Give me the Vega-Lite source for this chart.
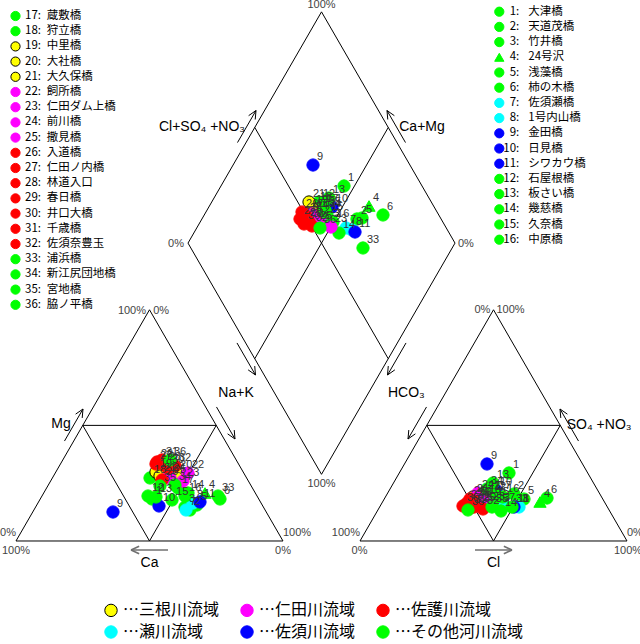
{
  "$schema": "https://vega.github.io/schema/vega-lite/v6.json",
  "width": 640,
  "height": 644,
  "padding": 0,
  "autosize": {"type": "none"},
  "background": "white",
  "config": {"view": {"stroke": null}},
  "datasets": {
    "sites": [
      {"site": 1, "tag": "1:", "name": "大津橋", "basin": "その他河川流域"},
      {"site": 2, "tag": "2:", "name": "天道茂橋", "basin": "その他河川流域"},
      {"site": 3, "tag": "3:", "name": "竹井橋", "basin": "その他河川流域"},
      {"site": 4, "tag": "4:", "name": "24号沢", "basin": "その他河川流域"},
      {"site": 5, "tag": "5:", "name": "浅藻橋", "basin": "その他河川流域"},
      {"site": 6, "tag": "6:", "name": "柿の木橋", "basin": "その他河川流域"},
      {"site": 7, "tag": "7:", "name": "佐須瀬橋", "basin": "瀬川流域"},
      {"site": 8, "tag": "8:", "name": "1号内山橋", "basin": "瀬川流域"},
      {"site": 9, "tag": "9:", "name": "金田橋", "basin": "佐須川流域"},
      {"site": 10, "tag": "10:", "name": "日見橋", "basin": "佐須川流域"},
      {"site": 11, "tag": "11:", "name": "シワカウ橋", "basin": "佐須川流域"},
      {"site": 12, "tag": "12:", "name": "石屋根橋", "basin": "その他河川流域"},
      {"site": 13, "tag": "13:", "name": "板さい橋", "basin": "その他河川流域"},
      {"site": 14, "tag": "14:", "name": "幾慈橋", "basin": "その他河川流域"},
      {"site": 15, "tag": "15:", "name": "久奈橋", "basin": "その他河川流域"},
      {"site": 16, "tag": "16:", "name": "中原橋", "basin": "その他河川流域"},
      {"site": 17, "tag": "17:", "name": "蔵敷橋", "basin": "その他河川流域"},
      {"site": 18, "tag": "18:", "name": "狩立橋", "basin": "その他河川流域"},
      {"site": 19, "tag": "19:", "name": "中里橋", "basin": "三根川流域"},
      {"site": 20, "tag": "20:", "name": "大社橋", "basin": "三根川流域"},
      {"site": 21, "tag": "21:", "name": "大久保橋", "basin": "三根川流域"},
      {"site": 22, "tag": "22:", "name": "飼所橋", "basin": "仁田川流域"},
      {"site": 23, "tag": "23:", "name": "仁田ダム上橋", "basin": "仁田川流域"},
      {"site": 24, "tag": "24:", "name": "前川橋", "basin": "仁田川流域"},
      {"site": 25, "tag": "25:", "name": "撒見橋", "basin": "仁田川流域"},
      {"site": 26, "tag": "26:", "name": "入道橋", "basin": "佐護川流域"},
      {"site": 27, "tag": "27:", "name": "仁田ノ内橋", "basin": "佐護川流域"},
      {"site": 28, "tag": "28:", "name": "林道入口", "basin": "佐護川流域"},
      {"site": 29, "tag": "29:", "name": "春日橋", "basin": "佐護川流域"},
      {"site": 30, "tag": "30:", "name": "井口大橋", "basin": "佐護川流域"},
      {"site": 31, "tag": "31:", "name": "千歳橋", "basin": "佐護川流域"},
      {"site": 32, "tag": "32:", "name": "佐須奈豊玉", "basin": "佐護川流域"},
      {"site": 33, "tag": "33:", "name": "浦浜橋", "basin": "その他河川流域"},
      {"site": 34, "tag": "34:", "name": "新江尻団地橋", "basin": "その他河川流域"},
      {"site": 35, "tag": "35:", "name": "宮地橋", "basin": "その他河川流域"},
      {"site": 36, "tag": "36:", "name": "脇ノ平橋", "basin": "その他河川流域"}
    ],
    "pts": [
      {"site": 1, "plot": "c", "x": 50.94, "y": 15.73},
      {"site": 2, "plot": "c", "x": 65.17, "y": 11.61},
      {"site": 3, "plot": "c", "x": 63.30, "y": 12.73},
      {"site": 4, "plot": "c", "x": 70.79, "y": 17.98},
      {"site": 5, "plot": "c", "x": 67.79, "y": 13.48},
      {"site": 6, "plot": "c", "x": 76.40, "y": 15.73},
      {"site": 7, "plot": "c", "x": 63.67, "y": 11.61},
      {"site": 8, "plot": "c", "x": 66.29, "y": 14.23},
      {"site": 9, "plot": "c", "x": 36.33, "y": 10.86},
      {"site": 10, "plot": "c", "x": 53.56, "y": 13.11},
      {"site": 11, "plot": "c", "x": 68.91, "y": 14.61},
      {"site": 12, "plot": "c", "x": 49.44, "y": 16.85},
      {"site": 13, "plot": "c", "x": 52.43, "y": 16.48},
      {"site": 14, "plot": "c", "x": 64.42, "y": 17.98},
      {"site": 15, "plot": "c", "x": 58.43, "y": 15.36},
      {"site": 16, "plot": "c", "x": 63.30, "y": 16.85},
      {"site": 17, "plot": "c", "x": 60.67, "y": 19.85},
      {"site": 18, "plot": "c", "x": 50.19, "y": 23.60},
      {"site": 19, "plot": "c", "x": 52.43, "y": 25.84},
      {"site": 20, "plot": "c", "x": 59.93, "y": 25.47},
      {"site": 21, "plot": "c", "x": 53.93, "y": 24.34},
      {"site": 22, "plot": "c", "x": 64.42, "y": 25.47},
      {"site": 23, "plot": "c", "x": 62.55, "y": 22.47},
      {"site": 24, "plot": "c", "x": 57.30, "y": 24.34},
      {"site": 25, "plot": "c", "x": 57.68, "y": 23.60},
      {"site": 26, "plot": "c", "x": 54.68, "y": 22.85},
      {"site": 27, "plot": "c", "x": 52.43, "y": 28.84},
      {"site": 28, "plot": "c", "x": 55.80, "y": 28.46},
      {"site": 29, "plot": "c", "x": 52.81, "y": 29.59},
      {"site": 30, "plot": "c", "x": 56.93, "y": 27.34},
      {"site": 31, "plot": "c", "x": 54.68, "y": 30.34},
      {"site": 32, "plot": "c", "x": 59.55, "y": 28.09},
      {"site": 33, "plot": "c", "x": 75.66, "y": 16.85},
      {"site": 34, "plot": "c", "x": 59.55, "y": 20.97},
      {"site": 35, "plot": "c", "x": 53.93, "y": 20.60},
      {"site": 36, "plot": "c", "x": 57.68, "y": 30.34},
      {"site": 1, "plot": "a", "x": 184.64, "y": 25.47},
      {"site": 2, "plot": "a", "x": 186.52, "y": 17.60},
      {"site": 3, "plot": "a", "x": 181.27, "y": 13.11},
      {"site": 4, "plot": "a", "x": 196.25, "y": 14.61},
      {"site": 5, "plot": "a", "x": 190.26, "y": 15.73},
      {"site": 6, "plot": "a", "x": 198.88, "y": 16.10},
      {"site": 7, "plot": "a", "x": 183.15, "y": 13.11},
      {"site": 8, "plot": "a", "x": 188.39, "y": 12.73},
      {"site": 9, "plot": "a", "x": 176.40, "y": 28.84},
      {"site": 10, "plot": "a", "x": 179.77, "y": 19.10},
      {"site": 11, "plot": "a", "x": 186.52, "y": 12.73},
      {"site": 12, "plot": "a", "x": 177.53, "y": 17.23},
      {"site": 13, "plot": "a", "x": 178.65, "y": 21.72},
      {"site": 14, "plot": "a", "x": 181.65, "y": 11.24},
      {"site": 15, "plot": "a", "x": 178.65, "y": 15.36},
      {"site": 16, "plot": "a", "x": 182.40, "y": 16.48},
      {"site": 17, "plot": "a", "x": 179.40, "y": 17.60},
      {"site": 18, "plot": "a", "x": 175.65, "y": 16.10},
      {"site": 19, "plot": "a", "x": 172.28, "y": 15.36},
      {"site": 20, "plot": "a", "x": 173.78, "y": 13.48},
      {"site": 21, "plot": "a", "x": 171.16, "y": 16.48},
      {"site": 22, "plot": "a", "x": 175.28, "y": 17.60},
      {"site": 23, "plot": "a", "x": 177.15, "y": 13.48},
      {"site": 24, "plot": "a", "x": 173.03, "y": 17.98},
      {"site": 25, "plot": "a", "x": 173.41, "y": 13.11},
      {"site": 26, "plot": "a", "x": 170.04, "y": 15.73},
      {"site": 27, "plot": "a", "x": 168.91, "y": 14.23},
      {"site": 28, "plot": "a", "x": 171.53, "y": 12.73},
      {"site": 29, "plot": "a", "x": 171.53, "y": 14.98},
      {"site": 30, "plot": "a", "x": 167.41, "y": 13.11},
      {"site": 31, "plot": "a", "x": 170.04, "y": 12.36},
      {"site": 32, "plot": "a", "x": 174.91, "y": 11.99},
      {"site": 33, "plot": "a", "x": 185.77, "y": 12.73},
      {"site": 34, "plot": "a", "x": 176.40, "y": 19.48},
      {"site": 35, "plot": "a", "x": 178.28, "y": 12.73},
      {"site": 36, "plot": "a", "x": 169.29, "y": 11.61},
      {"site": 1, "plot": "d", "x": 122.85, "y": 132.96},
      {"site": 2, "plot": "d", "x": 127.71, "y": 120.60},
      {"site": 3, "plot": "d", "x": 117.60, "y": 119.48},
      {"site": 4, "plot": "d", "x": 132.21, "y": 125.47},
      {"site": 5, "plot": "d", "x": 129.59, "y": 120.97},
      {"site": 6, "plot": "d", "x": 137.45, "y": 122.10},
      {"site": 7, "plot": "d", "x": 123.59, "y": 117.23},
      {"site": 8, "plot": "d", "x": 125.84, "y": 116.48},
      {"site": 9, "plot": "d", "x": 111.24, "y": 140.82},
      {"site": 10, "plot": "d", "x": 118.35, "y": 125.09},
      {"site": 11, "plot": "d", "x": 126.97, "y": 115.73},
      {"site": 12, "plot": "d", "x": 113.48, "y": 126.97},
      {"site": 13, "plot": "d", "x": 117.23, "y": 128.46},
      {"site": 14, "plot": "d", "x": 120.97, "y": 115.35},
      {"site": 15, "plot": "d", "x": 116.48, "y": 122.10},
      {"site": 16, "plot": "d", "x": 118.73, "y": 119.48},
      {"site": 17, "plot": "d", "x": 114.61, "y": 125.09},
      {"site": 18, "plot": "d", "x": 112.36, "y": 125.84},
      {"site": 19, "plot": "d", "x": 110.86, "y": 124.72},
      {"site": 20, "plot": "d", "x": 111.24, "y": 123.22},
      {"site": 21, "plot": "d", "x": 109.74, "y": 126.97},
      {"site": 22, "plot": "d", "x": 113.86, "y": 120.97},
      {"site": 23, "plot": "d", "x": 117.98, "y": 117.60},
      {"site": 24, "plot": "d", "x": 110.86, "y": 122.47},
      {"site": 25, "plot": "d", "x": 112.36, "y": 118.73},
      {"site": 26, "plot": "d", "x": 107.12, "y": 123.22},
      {"site": 27, "plot": "d", "x": 106.37, "y": 120.60},
      {"site": 28, "plot": "d", "x": 108.61, "y": 121.72},
      {"site": 29, "plot": "d", "x": 108.61, "y": 119.85},
      {"site": 30, "plot": "d", "x": 107.87, "y": 118.73},
      {"site": 31, "plot": "d", "x": 109.74, "y": 119.48},
      {"site": 32, "plot": "d", "x": 110.86, "y": 117.98},
      {"site": 33, "plot": "d", "x": 129.96, "y": 109.74},
      {"site": 34, "plot": "d", "x": 115.73, "y": 123.22},
      {"site": 35, "plot": "d", "x": 115.73, "y": 123.97},
      {"site": 36, "plot": "d", "x": 113.86, "y": 117.23}
    ],
    "frame": [
      {"x": 0, "y": 0, "x2": 100, "y2": 0},
      {"x": 0, "y": 0, "x2": 50, "y2": 86.603},
      {"x": 100, "y": 0, "x2": 50, "y2": 86.603},
      {"x": 25, "y": 43.301, "x2": 75, "y2": 43.301},
      {"x": 25, "y": 43.301, "x2": 50, "y2": 0},
      {"x": 75, "y": 43.301, "x2": 50, "y2": 0},
      {"x": 128.84, "y": 0, "x2": 228.84, "y2": 0},
      {"x": 128.84, "y": 0, "x2": 178.84, "y2": 86.603},
      {"x": 228.84, "y": 0, "x2": 178.84, "y2": 86.603},
      {"x": 153.84, "y": 43.301, "x2": 203.84, "y2": 43.301},
      {"x": 153.84, "y": 43.301, "x2": 178.84, "y2": 0},
      {"x": 203.84, "y": 43.301, "x2": 178.84, "y2": 0},
      {"x": 114.42, "y": 24.976, "x2": 64.42, "y2": 111.579},
      {"x": 64.42, "y": 111.579, "x2": 114.42, "y2": 198.182},
      {"x": 114.42, "y": 198.182, "x2": 164.42, "y2": 111.579},
      {"x": 164.42, "y": 111.579, "x2": 114.42, "y2": 24.976},
      {"x": 89.42, "y": 154.88, "x2": 139.42, "y2": 68.277},
      {"x": 139.42, "y": 154.88, "x2": 89.42, "y2": 68.277},
      {"x": 18.16, "y": 37.44, "x2": 25.09, "y2": 49.44},
      {"x": 25.09, "y": 49.44, "x2": 24.80, "y2": 46.08},
      {"x": 25.09, "y": 49.44, "x2": 22.33, "y2": 47.51},
      {"x": 75.09, "y": 50.20, "x2": 82.02, "y2": 38.20},
      {"x": 82.02, "y": 38.20, "x2": 79.26, "y2": 40.13},
      {"x": 82.02, "y": 38.20, "x2": 81.73, "y2": 41.56},
      {"x": 82.77, "y": 74.17, "x2": 89.70, "y2": 62.17},
      {"x": 89.70, "y": 62.17, "x2": 86.94, "y2": 64.10},
      {"x": 89.70, "y": 62.17, "x2": 89.41, "y2": 65.53},
      {"x": 146.07, "y": 74.17, "x2": 139.14, "y2": 62.17},
      {"x": 139.14, "y": 62.17, "x2": 139.43, "y2": 65.53},
      {"x": 139.14, "y": 62.17, "x2": 141.90, "y2": 64.10},
      {"x": 153.75, "y": 50.20, "x2": 146.82, "y2": 38.20},
      {"x": 146.82, "y": 38.20, "x2": 149.58, "y2": 40.13},
      {"x": 146.82, "y": 38.20, "x2": 147.11, "y2": 41.56},
      {"x": 210.68, "y": 37.44, "x2": 203.75, "y2": 49.44},
      {"x": 203.75, "y": 49.44, "x2": 204.04, "y2": 46.08},
      {"x": 203.75, "y": 49.44, "x2": 206.51, "y2": 47.51},
      {"x": 82.96, "y": 149.23, "x2": 89.89, "y2": 161.23},
      {"x": 89.89, "y": 161.23, "x2": 89.60, "y2": 157.87},
      {"x": 89.89, "y": 161.23, "x2": 87.13, "y2": 159.30},
      {"x": 145.88, "y": 149.23, "x2": 138.95, "y2": 161.23},
      {"x": 138.95, "y": 161.23, "x2": 141.71, "y2": 159.30},
      {"x": 138.95, "y": 161.23, "x2": 139.24, "y2": 157.87}
    ],
    "grayArrows": [
      {"x": 56.93, "y": -3.37, "x2": 43.07, "y2": -3.37},
      {"x": 43.07, "y": -3.37, "x2": 46.12, "y2": -1.95},
      {"x": 43.07, "y": -3.37, "x2": 46.12, "y2": -4.80},
      {"x": 171.91, "y": -3.37, "x2": 185.77, "y2": -3.37},
      {"x": 185.77, "y": -3.37, "x2": 182.72, "y2": -1.95},
      {"x": 185.77, "y": -3.37, "x2": 182.72, "y2": -4.80}
    ],
    "axisText": [
      {"x": 16.85, "y": 43.82, "t": "Mg"},
      {"x": 82.40, "y": 55.43, "t": "Na+K"},
      {"x": 146.2, "y": 55.43, "t": "HCO₃"},
      {"x": 218.4, "y": 43.45, "t": "SO₄ +NO₃"},
      {"x": 69.66, "y": 155.06, "t": "Cl+SO₄ +NO₃"},
      {"x": 152.06, "y": 155.06, "t": "Ca+Mg"},
      {"x": 50, "y": -8.24, "t": "Ca"},
      {"x": 178.84, "y": -8.24, "t": "Cl"}
    ],
    "pctRight": [
      {"x": 0, "y": 3.11, "t": "0%"},
      {"x": 128.84, "y": 3.11, "t": "100%"},
      {"x": 62.92, "y": 111.24, "t": "0%"},
      {"x": 48.7, "y": 86.3, "t": "100%"}
    ],
    "pctLeft": [
      {"x": 100, "y": 3.11, "t": "100%"},
      {"x": 228.84, "y": 3.11, "t": "0%"},
      {"x": 165.54, "y": 111.24, "t": "0%"},
      {"x": 51.4, "y": 86.3, "t": "0%"}
    ],
    "pctCenter": [
      {"x": 174.7, "y": 86.5, "t": "0%"},
      {"x": 185.2, "y": 86.5, "t": "100%"},
      {"x": 0, "y": -3.63, "t": "100%"},
      {"x": 100, "y": -3.63, "t": "0%"},
      {"x": 128.65, "y": -3.63, "t": "0%"},
      {"x": 229.2, "y": -3.63, "t": "100%"},
      {"x": 114.42, "y": 200.6, "t": "100%"},
      {"x": 114.42, "y": 21.35, "t": "100%"}
    ]
  },
  "resolve": {"scale": {"y": "independent"}},
  "layer": [
    {
      "encoding": {
        "x": {"field": "x", "type": "quantitative", "scale": {"domain": [-5.9925, 233.708], "nice": false, "zero": false}, "axis": null},
        "y": {"field": "y", "type": "quantitative", "scale": {"domain": [-38.577, 202.622], "nice": false, "zero": false}, "axis": null}
      },
      "layer": [
        {
          "data": {"name": "frame"},
          "mark": {"type": "rule", "color": "#000000", "strokeWidth": 1},
          "encoding": {"x2": {"field": "x2"}, "y2": {"field": "y2"}}
        },
        {
          "data": {"name": "grayArrows"},
          "mark": {"type": "rule", "color": "#707070", "strokeWidth": 1.6},
          "encoding": {"x2": {"field": "x2"}, "y2": {"field": "y2"}}
        },
        {
          "data": {"name": "pts"},
          "transform": [{"lookup": "site", "from": {"data": {"name": "sites"}, "key": "site", "fields": ["basin"]}}],
          "mark": {"type": "point", "filled": true, "opacity": 1, "size": 150, "strokeWidth": 1},
          "encoding": {
            "fill": {
              "field": "basin", "type": "nominal",
              "scale": {"domain": ["三根川流域", "仁田川流域", "佐護川流域", "瀬川流域", "佐須川流域", "その他河川流域"], "range": ["#ffff00", "#ff00ff", "#ff0000", "#00ffff", "#0000ff", "#00ff00"]},
              "legend": {"orient": "none", "direction": "horizontal", "legendX": 103, "legendY": 602, "columns": 3, "title": null, "symbolType": "circle", "symbolSize": 154, "symbolStrokeWidth": 1, "labelFontSize": 16, "labelFont": "Noto Sans CJK JP", "labelColor": "#000000", "labelExpr": "'…' + datum.label", "columnPadding": 18, "rowPadding": 4, "labelOffset": 4, "padding": 0, "symbolOpacity": 1}
            },
            "stroke": {
              "field": "basin", "type": "nominal",
              "scale": {"domain": ["三根川流域", "仁田川流域", "佐護川流域", "瀬川流域", "佐須川流域", "その他河川流域"], "range": ["#000000", "#ff00ff", "#ff0000", "#00ffff", "#0000ff", "#00ff00"]}
            },
            "shape": {"condition": {"test": "datum.site === 4", "value": "triangle-up"}, "value": "circle"}
          }
        },
        {
          "data": {"name": "pts"},
          "mark": {"type": "text", "align": "left", "baseline": "middle", "dx": 4, "dy": -8, "fontSize": 11, "font": "Liberation Sans", "color": "#333333"},
          "encoding": {"text": {"field": "site", "type": "nominal"}}
        },
        {
          "data": {"name": "axisText"},
          "mark": {"type": "text", "align": "center", "baseline": "middle", "fontSize": 14, "font": "Liberation Sans", "color": "#000000"},
          "encoding": {"text": {"field": "t", "type": "nominal"}}
        },
        {
          "data": {"name": "pctRight"},
          "mark": {"type": "text", "align": "right", "baseline": "middle", "fontSize": 11, "font": "Liberation Sans", "color": "#444444"},
          "encoding": {"text": {"field": "t", "type": "nominal"}}
        },
        {
          "data": {"name": "pctLeft"},
          "mark": {"type": "text", "align": "left", "baseline": "middle", "fontSize": 11, "font": "Liberation Sans", "color": "#444444"},
          "encoding": {"text": {"field": "t", "type": "nominal"}}
        },
        {
          "data": {"name": "pctCenter"},
          "mark": {"type": "text", "align": "center", "baseline": "middle", "fontSize": 11, "font": "Liberation Sans", "color": "#444444"},
          "encoding": {"text": {"field": "t", "type": "nominal"}}
        }
      ]
    },
    {
      "data": {"name": "sites"},
      "transform": [{"filter": "datum.site >= 17"}],
      "encoding": {
        "y": {"field": "site", "type": "quantitative", "scale": {"domain": [17, 36], "range": [16, 304.8], "nice": false, "zero": false}, "axis": null}
      },
      "layer": [
        {
          "mark": {"type": "point", "filled": true, "opacity": 1, "size": 85, "strokeWidth": 1},
          "encoding": {
            "x": {"datum": -0.19, "type": "quantitative"},
            "fill": {"field": "basin", "type": "nominal"},
            "stroke": {"field": "basin", "type": "nominal"},
            "shape": {"condition": {"test": "datum.site === 4", "value": "triangle-up"}, "value": "circle"}
          }
        },
        {
          "mark": {"type": "text", "align": "left", "baseline": "middle", "fontSize": 11.5, "font": "Noto Sans CJK JP", "color": "#000000"},
          "encoding": {"x": {"datum": 3.37, "type": "quantitative"}, "text": {"field": "tag", "type": "nominal"}}
        },
        {
          "mark": {"type": "text", "align": "left", "baseline": "middle", "fontSize": 11.5, "font": "Noto Sans CJK JP", "color": "#000000"},
          "encoding": {"x": {"datum": 11.49, "type": "quantitative"}, "text": {"field": "name", "type": "nominal"}}
        }
      ]
    },
    {
      "data": {"name": "sites"},
      "transform": [{"filter": "datum.site <= 16"}],
      "encoding": {
        "y": {"field": "site", "type": "quantitative", "scale": {"domain": [1, 16], "range": [11.7, 239.7], "nice": false, "zero": false}, "axis": null}
      },
      "layer": [
        {
          "mark": {"type": "point", "filled": true, "opacity": 1, "size": 85, "strokeWidth": 1},
          "encoding": {
            "x": {"datum": 181.01, "type": "quantitative"},
            "fill": {"field": "basin", "type": "nominal"},
            "stroke": {"field": "basin", "type": "nominal"},
            "shape": {"condition": {"test": "datum.site === 4", "value": "triangle-up"}, "value": "circle"}
          }
        },
        {
          "mark": {"type": "text", "align": "right", "baseline": "middle", "fontSize": 11.5, "font": "Noto Sans CJK JP", "color": "#000000"},
          "encoding": {"x": {"datum": 188.5, "type": "quantitative"}, "text": {"field": "tag", "type": "nominal"}}
        },
        {
          "mark": {"type": "text", "align": "left", "baseline": "middle", "fontSize": 11.5, "font": "Noto Sans CJK JP", "color": "#000000"},
          "encoding": {"x": {"datum": 191.87, "type": "quantitative"}, "text": {"field": "name", "type": "nominal"}}
        }
      ]
    }
  ]
}
